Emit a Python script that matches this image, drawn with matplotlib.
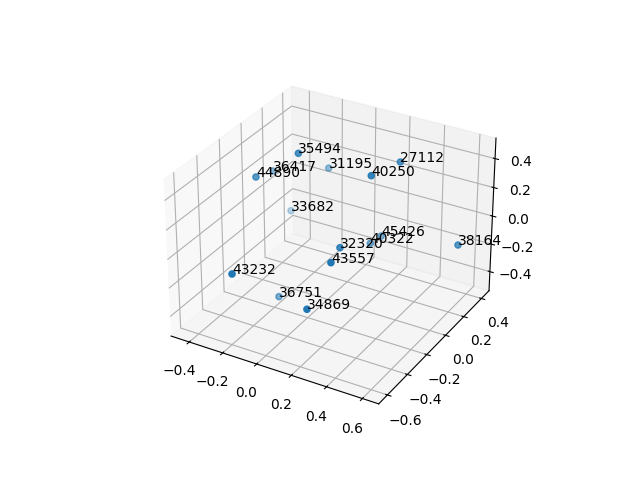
import matplotlib
matplotlib.use('Agg')
import matplotlib.pyplot as plt

labels = ['35494', '36417', '44890', '31195', '27112', '40250', '33682', '45426',
          '40322', '38164', '32320', '43557', '43232', '36751', '34869']
xs = [-0.131, -0.366, -0.316, -0.133, 0.300, 0.259, -0.337, 0.239, 0.206, 0.652, 0.193, 0.234, -0.174, -0.135, 0.191]
ys = [-0.063, 0.068, -0.170, 0.236, 0.209, -0.014, 0.191, 0.132, 0.078, 0.181, -0.205, -0.362, -0.620, -0.258, -0.519]
zs = [0.485, 0.215, 0.325, 0.215, 0.41, 0.43, -0.13, -0.08, -0.11, -0.03, 0.03, 0.04, -0.02, -0.40, -0.195]

fig = plt.figure()
ax = fig.add_subplot(projection='3d')
ax.scatter(xs, ys, zs)
for x, y, z, t in zip(xs, ys, zs, labels):
    ax.text(x, y, z, t)
ax.set_xlim(-0.51, 0.69)
ax.set_ylim(-0.685, 0.488)
ax.set_zlim(-0.54, 0.54)
fig.savefig('out.png')
